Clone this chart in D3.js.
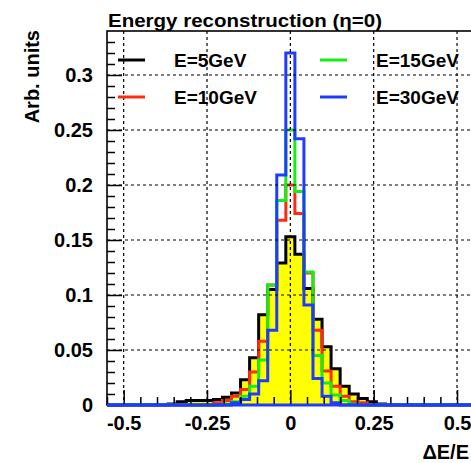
<!DOCTYPE html>
<html>
<head>
<meta charset="utf-8">
<script src="https://cdn.jsdelivr.net/npm/d3@7/dist/d3.min.js"></script>
<style>
  html, body { margin: 0; padding: 0; background: #fff; }
  svg { display: block; }
  text { font-family: "Liberation Sans", Arial, Helvetica, sans-serif; font-weight: bold; }
</style>
</head>
<body>
<svg id="chart" width="471" height="463"></svg>
<script>
// ---------------- data ----------------
const titleText = "Energy reconstruction (\u03B7=0)";
const yTitle = "Arb. units";
const xTitle = "\u0394E/E";

// bin centres of the histograms (bin width 2.2/81)
const binWidth = 0.0271605;
const binCenters = [
  -0.54321, -0.51605, -0.48889, -0.46173, -0.43457, -0.40741, -0.38025, -0.35309,
  -0.32593, -0.29877, -0.27160, -0.24444, -0.21728, -0.19012, -0.16296, -0.13580,
  -0.10864, -0.08148, -0.05432, -0.02716, 0.00000, 0.02716, 0.05432, 0.08148,
  0.10864, 0.13580, 0.16296, 0.19012, 0.21728, 0.24444, 0.27160, 0.29877,
  0.32593, 0.35309, 0.38025, 0.40741, 0.43457, 0.46173, 0.48889, 0.51605, 0.54321
];

const seriesNames = ["E=5GeV", "E=10GeV", "E=15GeV", "E=30GeV"];
const e5 = [
  0, 0, 0, 0, 0, 0, 0, 0.001,
  0.003, 0.004, 0.004, 0.004, 0.005, 0.007, 0.011, 0.023,
  0.043, 0.082, 0.105, 0.129, 0.153, 0.137, 0.106, 0.078,
  0.053, 0.033, 0.017, 0.010, 0.006, 0.003, 0.001, 0,
  0, 0, 0, 0, 0, 0, 0, 0, 0
];
const e10 = [
  0, 0, 0, 0, 0, 0, 0, 0,
  0, 0, 0, 0, 0.002, 0.004, 0.008, 0.014,
  0.030, 0.058, 0.109, 0.168, 0.200, 0.174, 0.120, 0.068,
  0.031, 0.017, 0.008, 0.003, 0.002, 0, 0, 0,
  0, 0, 0, 0, 0, 0, 0, 0, 0
];
const e15 = [
  0, 0, 0, 0, 0, 0, 0, 0,
  0, 0, 0, 0, 0, 0.001, 0.003, 0.008,
  0.017, 0.041, 0.109, 0.186, 0.250, 0.194, 0.121, 0.045,
  0.020, 0.009, 0.004, 0.001, 0, 0, 0, 0,
  0, 0, 0, 0, 0, 0, 0, 0, 0
];
const e30 = [
  0, 0, 0, 0, 0, 0, 0, 0,
  0, 0, 0, 0, 0, 0, 0.002, 0.005,
  0.010, 0.022, 0.068, 0.209, 0.320, 0.242, 0.091, 0.024,
  0.008, 0.002, 0, 0, 0, 0, 0, 0,
  0, 0, 0, 0, 0, 0, 0, 0, 0
];
const seriesValues = [e5, e10, e15, e30];
const seriesColors = ["#000000", "#ff2a10", "#14ee14", "#1e3cff"];

const xMajorTicks = [-0.5, -0.25, 0, 0.25, 0.5];
const xMajorLabels = ["-0.5", "-0.25", "0", "0.25", "0.5"];
const xMinorTicks = [-0.55, -0.45, -0.4, -0.35, -0.3, -0.2, -0.15, -0.1, -0.05, 0.05, 0.1, 0.15, 0.2, 0.3, 0.35, 0.4, 0.45, 0.55];
const yMajorTicks = [0, 0.05, 0.1, 0.15, 0.2, 0.25, 0.3];
const yMajorLabels = ["0", "0.05", "0.1", "0.15", "0.2", "0.25", "0.3"];
const yMinorTicks = [0.01, 0.02, 0.03, 0.04, 0.06, 0.07, 0.08, 0.09, 0.11, 0.12, 0.13, 0.14,
  0.16, 0.17, 0.18, 0.19, 0.21, 0.22, 0.23, 0.24, 0.26, 0.27, 0.28, 0.29, 0.31, 0.32, 0.33];

// ---------------- layout ----------------
const L = 107, T = 31, R = 473.7, B = 405;
const svg = d3.select("#chart");
const x = d3.scaleLinear().domain([-0.55, 0.55]).range([L, R]);
const y = d3.scaleLinear().domain([0, 0.34]).range([B, T]);

svg.append("defs").append("clipPath").attr("id", "clip")
  .append("rect").attr("x", L).attr("y", T).attr("width", R - L).attr("height", B - T + 3);

const plot = svg.append("g").attr("clip-path", "url(#clip)");

function stepPath(vals) {
  let p = "";
  binCenters.forEach((c, i) => {
    const x0 = x(c - binWidth / 2), x1 = x(c + binWidth / 2), yy = y(vals[i]);
    if (i === 0) p += `M${x0},${y(0)}L${x0},${yy}`;
    else p += `L${x0},${yy}`;
    p += `L${x1},${yy}`;
    if (i === binCenters.length - 1) p += `L${x1},${y(0)}`;
  });
  return p;
}

// yellow-filled E=5GeV
plot.append("path").attr("d", stepPath(e5) + "Z").attr("fill", "#ffff00").attr("stroke", "none");
seriesValues.forEach((vals, i) => {
  plot.append("path").attr("d", stepPath(vals))
    .attr("fill", "none").attr("stroke", seriesColors[i])
    .attr("stroke-width", 3).attr("stroke-linejoin", "miter");
});

// grid
const grid = svg.append("g");
xMajorTicks.forEach(v => {
  grid.append("line").attr("x1", x(v)).attr("x2", x(v)).attr("y1", T).attr("y2", B)
    .attr("stroke", "#000").attr("stroke-width", 1.2).attr("stroke-dasharray", "3,3");
});
yMajorTicks.filter(v => v > 0).forEach(v => {
  grid.append("line").attr("x1", L).attr("x2", R).attr("y1", y(v)).attr("y2", y(v))
    .attr("stroke", "#000").attr("stroke-width", 1.2).attr("stroke-dasharray", "3,3");
});

// axes
const xAxis = d3.axisBottom(x).tickValues(xMajorTicks)
  .tickFormat((d, i) => xMajorLabels[i]).tickSize(-15).tickPadding(11);
const gx = svg.append("g").attr("transform", `translate(0,${B})`).call(xAxis);
const xAxisMinor = d3.axisBottom(x).tickValues(xMinorTicks).tickFormat("").tickSize(-8);
const gxm = svg.append("g").attr("transform", `translate(0,${B})`).call(xAxisMinor);

const yAxis = d3.axisLeft(y).tickValues(yMajorTicks)
  .tickFormat((d, i) => yMajorLabels[i]).tickSize(-15).tickPadding(14);
const gy = svg.append("g").attr("transform", `translate(${L},0)`).call(yAxis);
const yAxisMinor = d3.axisLeft(y).tickValues(yMinorTicks).tickFormat("").tickSize(-8);
const gym = svg.append("g").attr("transform", `translate(${L},0)`).call(yAxisMinor);

[gx, gxm, gy, gym].forEach(g => {
  g.select(".domain").remove();
  g.selectAll("line").attr("stroke", "#000").attr("stroke-width", 1.5);
  g.selectAll("text").attr("fill", "#000").style("font-size", "20px")
    .style("font-family", "'Liberation Sans', Arial, sans-serif").style("font-weight", "bold");
});

// frame
svg.append("rect").attr("x", L).attr("y", T).attr("width", R - L).attr("height", B - T)
  .attr("fill", "none").attr("stroke", "#000").attr("stroke-width", 1.6);
// blue baseline on top of frame (histogram zero line)
svg.append("line").attr("x1", L).attr("x2", R).attr("y1", y(0)).attr("y2", y(0))
  .attr("stroke", seriesColors[3]).attr("stroke-width", 3);

// titles
svg.append("text").attr("x", 108).attr("y", 27).style("font-size", "19px")
  .attr("textLength", 274).attr("lengthAdjust", "spacingAndGlyphs").text(titleText);
svg.append("text").attr("transform", "translate(39,30) rotate(-90)")
  .attr("text-anchor", "end").style("font-size", "20px").text(yTitle);
svg.append("text").attr("x", 469).attr("y", 459).attr("text-anchor", "end")
  .style("font-size", "20px").text(xTitle);

// legend
const legendPos = [
  { lx: 118, ly: 60, tx: 174 },
  { lx: 118, ly: 97, tx: 174 },
  { lx: 320, ly: 60, tx: 376 },
  { lx: 320, ly: 97, tx: 376 }
];
seriesNames.forEach((name, i) => {
  const p = legendPos[i];
  svg.append("line").attr("x1", p.lx).attr("x2", p.lx + 27).attr("y1", p.ly).attr("y2", p.ly)
    .attr("stroke", seriesColors[i]).attr("stroke-width", 3);
  svg.append("text").attr("x", p.tx).attr("y", p.ly + 7).style("font-size", "19px").text(name);
});
</script>
</body>
</html>
